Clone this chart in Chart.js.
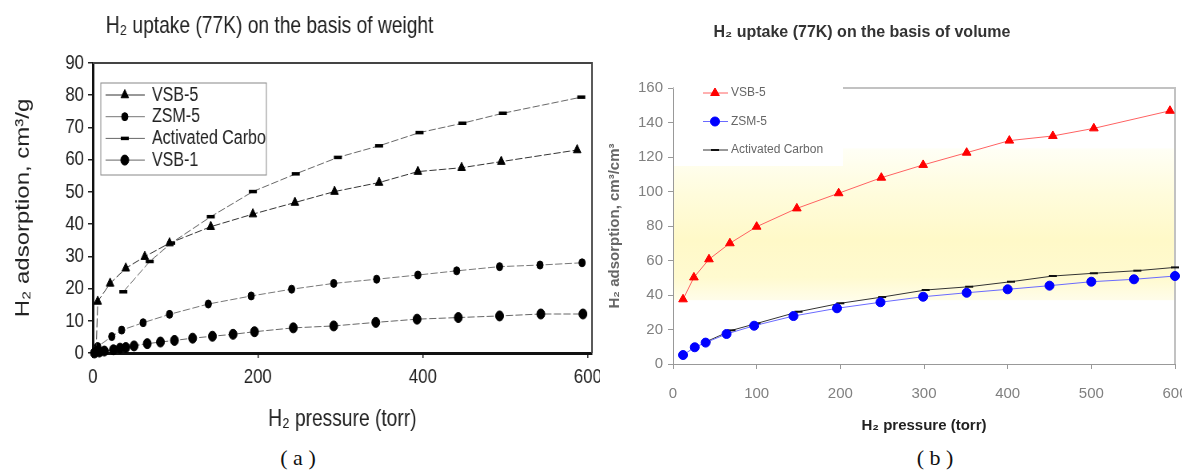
<!DOCTYPE html>
<html>
<head>
<meta charset="utf-8">
<script src="https://cdn.jsdelivr.net/npm/chart.js@4.4.1/dist/chart.umd.min.js"></script>
<style>
  html, body { margin: 0; padding: 0; background: #fff; }
  #wrap { position: relative; width: 1182px; height: 475px; overflow: hidden; }
  canvas { position: absolute; top: 0; }
  .cap { position: absolute; top: 445px; font: 22px "Liberation Serif", "DejaVu Serif", serif; color: #111; white-space: pre; transform: translateX(-50%); }
</style>
</head>
<body>
<div id="wrap">
  <!-- weight panel is drawn wider and squeezed by css, like the printed figure -->
  <canvas id="weightChart" width="750" height="440" style="left:0;width:600px;height:440px"></canvas>
  <canvas id="volumeChart" width="582" height="440" style="left:600px;width:582px;height:440px"></canvas>
  <div class="cap" style="left:298px">( a )</div>
  <div class="cap" style="left:935px">( b )</div>
</div>
<script>
// (a) H2 uptake per gram (cm3/g) against pressure (torr)
var vsb5Torr = [4, 6, 21, 40, 63, 93, 143, 194, 245, 293, 347, 394, 447, 495, 587];
var vsb5Wt   = [0.5, 16, 21.6, 26.3, 29.9, 34.1, 39.2, 43.1, 46.7, 50.1, 52.9, 56.3, 57.5, 59.4, 63.0];
var zsm5Torr = [2, 6, 23, 35, 61, 93, 140, 192, 241, 292, 344, 394, 441, 493, 542, 593];
var zsm5Wt   = [0.3, 2.0, 5.1, 7.1, 9.4, 12.0, 15.2, 17.7, 19.8, 21.6, 22.9, 24.2, 25.5, 26.8, 27.3, 28.0];
var carbTorr = [37, 69, 95, 143, 194, 246, 297, 347, 396, 448, 497, 592];
var carbWt   = [19.0, 28.4, 34.1, 42.3, 50.1, 55.6, 60.7, 64.3, 68.4, 71.3, 74.4, 79.4];
var vsb1Torr = [2, 8, 14, 25, 33, 40, 50, 66, 82, 99, 121, 145, 170, 196, 243, 292, 343, 393, 443, 493, 543, 594];
var vsb1Wt   = [0, 0.3, 0.6, 1.0, 1.5, 1.7, 2.2, 2.9, 3.4, 3.9, 4.6, 5.2, 5.8, 6.6, 7.8, 8.4, 9.5, 10.5, 11.0, 11.5, 12.1, 12.1];
var weightTicksX = [0, 200, 400, 600];
var weightTicksY = [0, 10, 20, 30, 40, 50, 60, 70, 80, 90];

// (b) H2 uptake per volume (cm3/cm3)
var vsb5VTorr = [12, 25, 43, 68, 100, 148, 198, 249, 299, 351, 402, 454, 503, 594];
var vsb5Vol   = [37.5, 50.2, 60.7, 70.0, 79.6, 90.2, 99.0, 108.0, 115.4, 122.5, 129.5, 132.2, 136.6, 146.8];
var zsm5VTorr = [12, 26, 39, 64, 97, 144, 196, 248, 299, 351, 400, 450, 500, 551, 600];
var zsm5Vol   = [5.2, 9.7, 12.4, 17.4, 22.2, 27.8, 32.3, 35.8, 39.0, 41.3, 43.3, 45.4, 47.7, 49.1, 51.0];
var carbVTorr = [40, 70, 100, 150, 200, 250, 302, 354, 404, 454, 503, 555, 600];
var carbVol   = [13.0, 19.5, 23.5, 30.3, 35.2, 38.8, 42.9, 44.8, 47.7, 51.0, 52.6, 54.1, 56.0];
var volumeTicksX = [0, 100, 200, 300, 400, 500, 600];
var volumeTicksY = [0, 20, 40, 60, 80, 100, 120, 140, 160];

Chart.defaults.font.family = "'Liberation Sans', Arial, sans-serif";
Chart.defaults.animation = false;

function pairs(xs, ys) {
    return xs.map(function (x, i) { return { x: x, y: ys[i] }; });
}

function fixedTicks(list) {
    return function (s) { s.ticks = list.map(function (v) { return { value: v }; }); };
}

// title text placed by hand, the built-in one only centres on the canvas
var headline = {
    id: 'headline',
    afterDraw: function (chart, args, o) {
        var ctx = chart.ctx;
        ctx.save();
        ctx.font = o.font;
        ctx.fillStyle = o.color;
        ctx.textAlign = 'center';
        ctx.textBaseline = 'middle';
        ctx.fillText(o.text, o.x, o.y);
        ctx.restore();
    }
};

function drawKey(chart, o) {
    var a = chart.chartArea, ctx = chart.ctx;
    ctx.save();
    if (o.box) {
        ctx.fillStyle = '#fff';
        ctx.fillRect(a.left + o.bx, a.top + o.by, o.bw, o.bh);
        ctx.strokeStyle = o.box;
        ctx.lineWidth = 1;
        ctx.strokeRect(a.left + o.bx, a.top + o.by, o.bw, o.bh);
        ctx.beginPath();
        ctx.rect(a.left + o.bx, a.top + o.by, o.bw - 1, o.bh);
        ctx.clip();
    }
    chart.data.datasets.forEach(function (ds, i) {
        var y = a.top + o.y0 + i * o.dy;
        ctx.setLineDash([]);
        ctx.strokeStyle = ds.borderColor;
        ctx.lineWidth = ds.borderWidth;
        ctx.beginPath();
        ctx.moveTo(a.left + o.x0, y);
        ctx.lineTo(a.left + o.x1, y);
        ctx.stroke();
        ctx.fillStyle = ds.pointBackgroundColor;
        ctx.strokeStyle = ds.pointBorderColor;
        ctx.lineWidth = ds.pointBorderWidth;
        Chart.helpers.drawPoint(ctx, {
            pointStyle: ds.pointStyle, radius: ds.pointRadius,
            borderWidth: ds.pointBorderWidth, rotation: 0
        }, a.left + o.mx, y);
        ctx.fillStyle = o.color;
        ctx.font = o.font;
        ctx.textAlign = 'left';
        ctx.textBaseline = 'middle';
        ctx.fillText(ds.label, a.left + o.tx, y);
    });
    ctx.restore();
}

var weightDecor = {
    id: 'weightDecor',
    beforeDatasetsDraw: function (chart) {
        var a = chart.chartArea, ctx = chart.ctx;
        ctx.save();
        ctx.strokeStyle = '#444';
        ctx.lineWidth = 2;
        ctx.beginPath();
        ctx.moveTo(a.left, a.top);
        ctx.lineTo(a.right, a.top);
        ctx.lineTo(a.right, a.bottom);
        ctx.stroke();
        ctx.restore();
    },
    afterDatasetsDraw: function (chart, args, o) {
        drawKey(chart, o);
    }
};

var volumeDecor = {
    id: 'volumeDecor',
    beforeDatasetsDraw: function (chart, args, o) {
        var a = chart.chartArea, ctx = chart.ctx, ys = chart.scales.y;
        var top = ys.getPixelForValue(o.bandFrom), bot = ys.getPixelForValue(o.bandTo);
        var g = ctx.createLinearGradient(0, top, 0, bot);
        o.bandStops.forEach(function (s) { g.addColorStop(s[0], s[1]); });
        ctx.save();
        ctx.fillStyle = g;
        ctx.fillRect(a.left + 1, top, a.right - a.left - 1, bot - top);
        ctx.strokeStyle = '#c2c2c2';
        ctx.lineWidth = 2;
        ctx.beginPath();
        ctx.moveTo(a.left, a.top);
        ctx.lineTo(a.right, a.top);
        ctx.lineTo(a.right, a.bottom);
        ctx.stroke();
        // white panel behind the key
        ctx.fillStyle = '#fff';
        ctx.fillRect(a.left + 1, a.top - 2, o.panelW, o.panelH + 2);
        ctx.restore();
    },
    afterDatasetsDraw: function (chart, args, o) {
        drawKey(chart, o);
    }
};

function weightSet(label, xs, ys, style, r, bw, line) {
    return {
        label: label, data: pairs(xs, ys),
        borderColor: line, borderWidth: 1, borderDash: [9, 3],
        pointStyle: style, pointRadius: r, pointBorderWidth: bw,
        pointBackgroundColor: '#000', pointBorderColor: '#000',
        clip: false, tension: 0
    };
}

new Chart('weightChart', {
    type: 'line',
    data: {
        datasets: [
            weightSet('VSB-5', vsb5Torr, vsb5Wt, 'triangle', 5.5, 1, '#333'),
            weightSet('ZSM-5', zsm5Torr, zsm5Wt, 'circle', 4, 1, '#777'),
            weightSet('Activated Carbon', carbTorr, carbWt, 'line', 5, 3.5, '#666'),
            weightSet('VSB-1', vsb1Torr, vsb1Wt, 'circle', 5, 1, '#666')
        ]
    },
    options: {
        responsive: false,
        layout: { padding: { top: 63, right: 10, bottom: 0, left: 0 } },
        scales: {
            x: {
                type: 'linear', min: 0, max: 605,
                afterBuildTicks: fixedTicks(weightTicksX),
                afterFit: function (s) { s.height = 87; s.paddingLeft = 0; s.paddingRight = 0; },
                ticks: { padding: 7, color: '#222', font: { size: 21 } },
                grid: { drawOnChartArea: false, tickLength: 5, color: '#222', lineWidth: 1.5 },
                border: { color: '#111', width: 3 },
                title: { display: true, text: 'H₂ pressure (torr)', color: '#222', font: { size: 24 }, padding: { top: 0, bottom: 6 } }
            },
            y: {
                type: 'linear', min: 0, max: 90,
                afterBuildTicks: fixedTicks(weightTicksY),
                afterFit: function (s) { s.width = 116; s.paddingTop = 0; s.paddingBottom = 0; },
                ticks: { padding: 5, color: '#222', font: { size: 21 } },
                grid: { drawOnChartArea: false, tickLength: 6, color: '#222', lineWidth: 1.5 },
                border: { color: '#111', width: 3 },
                title: { display: true, text: 'H₂ adsorption, cm³/g', color: '#222', font: { size: 24 }, padding: { top: 15, bottom: 0 } }
            }
        },
        plugins: {
            legend: { display: false },
            tooltip: { enabled: false },
            headline: { text: 'H₂ uptake (77K) on the basis of weight', x: 337, y: 26, font: "24px 'Liberation Sans', Arial, sans-serif", color: '#222' },
            weightDecor: {
                box: '#888', bx: 10, by: 20, bw: 207, bh: 92,
                x0: 16, x1: 65, mx: 40, tx: 74, y0: 32, dy: 21.7,
                font: "20px 'Liberation Sans', Arial, sans-serif", color: '#222'
            }
        }
    },
    plugins: [headline, weightDecor]
});

function volumeSet(label, xs, ys, style, r, bw, line, mark) {
    return {
        label: label, data: pairs(xs, ys),
        borderColor: line, borderWidth: 1,
        pointStyle: style, pointRadius: r, pointBorderWidth: bw,
        pointBackgroundColor: mark, pointBorderColor: mark,
        clip: false, tension: 0
    };
}

new Chart('volumeChart', {
    type: 'line',
    data: {
        datasets: [
            volumeSet('VSB-5', vsb5VTorr, vsb5Vol, 'triangle', 5, 1, '#ff6262', '#ff0000'),
            volumeSet('ZSM-5', zsm5VTorr, zsm5Vol, 'circle', 4.5, 1, '#6a6aff', '#0000ff'),
            volumeSet('Activated Carbon', carbVTorr, carbVol, 'line', 4, 2, '#333', '#111')
        ]
    },
    options: {
        responsive: false,
        layout: { padding: { top: 88, right: 7, bottom: 0, left: 0 } },
        scales: {
            x: {
                type: 'linear', min: 0, max: 600,
                afterBuildTicks: fixedTicks(volumeTicksX),
                afterFit: function (s) { s.height = 76; s.paddingLeft = 0; s.paddingRight = 0; },
                ticks: { padding: 16, color: '#808080', font: { size: 15 } },
                grid: { drawOnChartArea: false, tickLength: 5, color: '#999' },
                border: { color: '#999', width: 1 },
                title: { display: true, text: 'H₂ pressure (torr)', color: '#222', font: { size: 15, weight: 'bold' }, padding: { top: 0, bottom: 5 } }
            },
            y: {
                type: 'linear', min: 0, max: 160,
                afterBuildTicks: fixedTicks(volumeTicksY),
                afterFit: function (s) { s.width = 73; s.paddingTop = 0; s.paddingBottom = 0; },
                ticks: { padding: 5, color: '#808080', font: { size: 15 } },
                grid: { drawOnChartArea: false, tickLength: 5, color: '#999' },
                border: { color: '#999', width: 1 },
                title: { display: true, text: 'H₂ adsorption, cm³/cm³', color: '#666', font: { size: 15, weight: 'bold' }, padding: { top: 6, bottom: 0 } }
            }
        },
        plugins: {
            legend: { display: false },
            tooltip: { enabled: false },
            headline: { text: 'H₂ uptake (77K) on the basis of volume', x: 262, y: 33, font: "bold 16px 'Liberation Sans', Arial, sans-serif", color: '#333' },
            volumeDecor: {
                bandFrom: 125, bandTo: 37,
                bandStops: [[0, '#fffff6'], [0.3, '#fffcdc'], [0.6, '#fff9c8'], [0.85, '#fffacf'], [1, '#fffdea']],
                panelW: 169, panelH: 78,
                x0: 30, x1: 55, mx: 42, tx: 58, y0: 5, dy: 28.5,
                font: "12px 'Liberation Sans', Arial, sans-serif", color: '#666'
            }
        }
    },
    plugins: [headline, volumeDecor]
});
</script>
</body>
</html>
